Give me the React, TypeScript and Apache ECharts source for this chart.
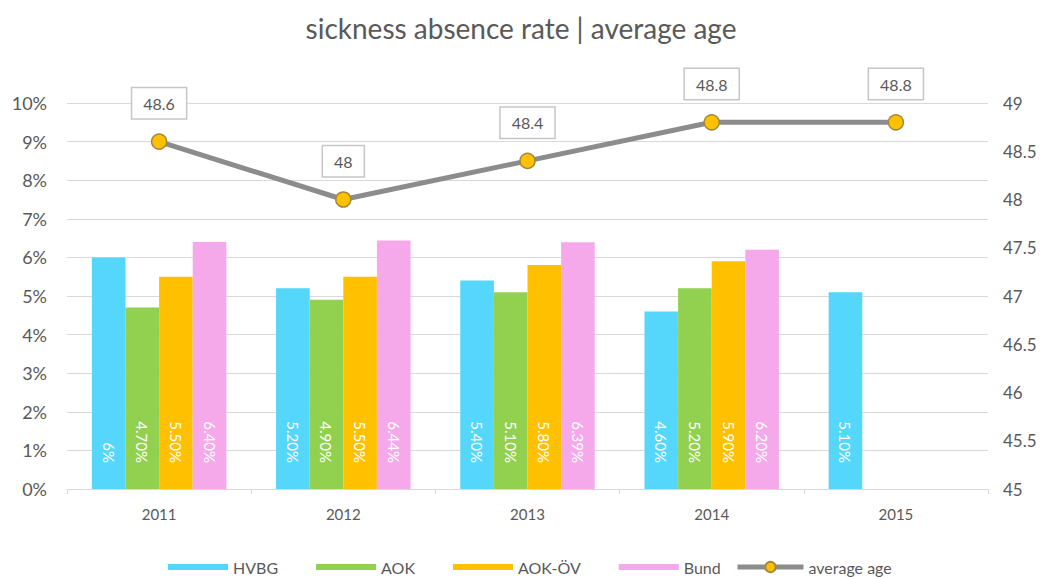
import React, { useEffect, useRef } from "react";
import * as echarts from "echarts";

// Years on the category axis
const years = ["2011", "2012", "2013", "2014", "2015"];

// Sickness absence rate in percent per insurer group ("-" = no value)
const hvbg = [6, 5.2, 5.4, 4.6, 5.1];
const aok: (number | string)[] = [4.7, 4.9, 5.1, 5.2, "-"];
const aokOev: (number | string)[] = [5.5, 5.5, 5.8, 5.9, "-"];
const bund: (number | string)[] = [6.4, 6.44, 6.39, 6.2, "-"];

// Average age (right axis)
const averageAge = [48.6, 48, 48.4, 48.8, 48.8];

// Left and right axis ranges
const rateMin = 0;
const rateMax = 10;
const rateStep = 1;
const ageMin = 45;
const ageMax = 49;
const ageStep = 0.5;

const FONT = "Lato, 'Noto Sans', sans-serif";
const TEXT = "#595959";
const GRID = "#d9d9d9";

const pctLabel = (v: number) =>
  Number.isInteger(v) ? `${v}%` : `${v.toFixed(2)}%`;

function barSeries(name: string, data: (number | string)[], color: string) {
  return {
    name,
    type: "bar",
    yAxisIndex: 0,
    data,
    barGap: "0%",
    barCategoryGap: "27%",
    itemStyle: { color },
    label: {
      show: true,
      position: "insideBottom",
      distance: 26,
      rotate: -90,
      align: "right",
      verticalAlign: "middle",
      color: "#ffffff",
      fontFamily: FONT,
      fontSize: 15,
      formatter: (p: any) => pctLabel(p.value as number),
    },
  };
}

const legendText = { fontFamily: FONT, fontSize: 16, color: TEXT };

export default function App() {
  const ref = useRef<HTMLDivElement>(null);

  useEffect(() => {
    document.body.style.margin = "0";
    if (!ref.current) return;
    const chart = echarts.init(ref.current, undefined, { renderer: "svg" });
    chart.setOption({
      animation: false,
      backgroundColor: "#ffffff",
      textStyle: { fontFamily: FONT },
      title: {
        text: "sickness absence rate | average age",
        left: "center",
        top: 9,
        textStyle: {
          fontFamily: FONT,
          fontSize: 28,
          fontWeight: "normal",
          color: TEXT,
        },
      },
      legend: [
        {
          left: 168,
          top: 559,
          padding: 0,
          itemWidth: 60,
          itemHeight: 6,
          itemGap: 38,
          textStyle: legendText,
          data: [
            { name: "HVBG", icon: "rect" },
            { name: "AOK", icon: "rect" },
            { name: "AOK-ÖV", icon: "rect" },
            { name: "Bund", icon: "rect" },
          ],
        },
        {
          left: 735,
          top: 559,
          padding: 0,
          itemWidth: 66,
          itemHeight: 13,
          textStyle: legendText,
          lineStyle: { width: 5 },
          data: [{ name: "average age" }],
        },
      ],
      grid: { left: 67, right: 54, top: 103, bottom: 89 },
      xAxis: {
        type: "category",
        data: years,
        axisLine: { show: true, lineStyle: { color: GRID } },
        axisTick: { show: true, length: 5, lineStyle: { color: GRID } },
        axisLabel: {
          color: TEXT,
          fontFamily: FONT,
          fontSize: 15,
          margin: 17,
        },
      },
      yAxis: [
        {
          type: "value",
          min: rateMin,
          max: rateMax,
          interval: rateStep,
          axisLine: { show: false },
          axisTick: { show: false },
          splitLine: { lineStyle: { color: GRID, width: 1 } },
          axisLabel: {
            formatter: "{value}%",
            color: TEXT,
            fontFamily: FONT,
            fontSize: 18,
            margin: 20,
          },
        },
        {
          type: "value",
          min: ageMin,
          max: ageMax,
          interval: ageStep,
          position: "right",
          axisLine: { show: false },
          axisTick: { show: false },
          splitLine: { show: false },
          axisLabel: {
            color: TEXT,
            fontFamily: FONT,
            fontSize: 17,
            margin: 15,
          },
        },
      ],
      series: [
        barSeries("HVBG", hvbg, "#55D6FB"),
        barSeries("AOK", aok, "#92D050"),
        barSeries("AOK-ÖV", aokOev, "#FFC000"),
        barSeries("Bund", bund, "#F5A9EB"),
        {
          name: "average age",
          type: "line",
          yAxisIndex: 1,
          data: averageAge,
          z: 5,
          symbol: "circle",
          symbolSize: 15,
          lineStyle: { color: "#8c8c8c", width: 5 },
          itemStyle: {
            color: "#FFC000",
            borderColor: "#a08a3c",
            borderWidth: 1.5,
          },
          label: {
            show: true,
            position: "top",
            distance: 15,
            color: TEXT,
            fontFamily: FONT,
            fontSize: 16,
            backgroundColor: "#ffffff",
            borderColor: "#c6c6c6",
            borderWidth: 1.5,
            padding: [7, 11, 7, 11],
          },
        },
      ],
    });
    return () => chart.dispose();
  }, []);

  return <div ref={ref} style={{ width: 1042, height: 578 }} />;
}
